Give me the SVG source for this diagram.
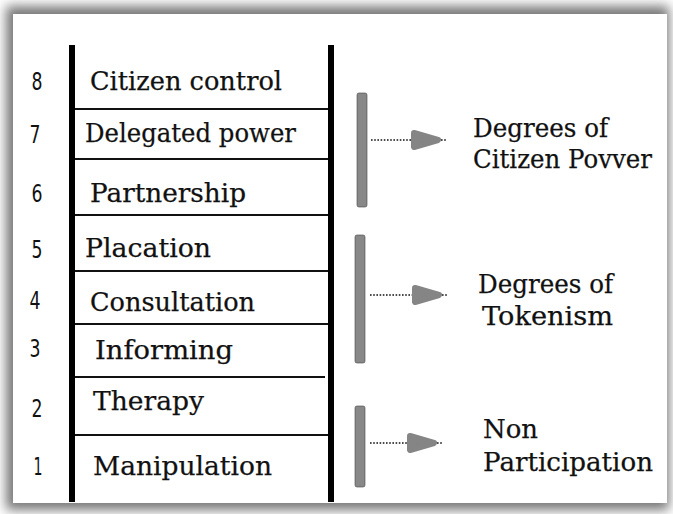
<svg xmlns="http://www.w3.org/2000/svg" width="673" height="514" viewBox="0 0 673 514">
<defs>
<filter id="sh" x="-5%" y="-5%" width="110%" height="110%"><feGaussianBlur stdDeviation="6"/></filter>
<marker id="ah" markerUnits="userSpaceOnUse" markerWidth="34" markerHeight="22" refX="2" refY="11" orient="auto" overflow="visible">
<path d="M3,4 L27,11 L3,18 Z" fill="#858585" stroke="#858585" stroke-width="6" stroke-linejoin="round"/>
</marker>
</defs>
<style>
.t{font-family:"DejaVu Serif","Liberation Serif",serif;font-size:26px;fill:#111;stroke:#111;stroke-width:0.25;}
.n{font-family:"DejaVu Sans","Liberation Sans",sans-serif;font-size:25px;fill:#111;text-anchor:middle;}
.rail{fill:#000;}
.rung{stroke:#111;stroke-width:2;}
.bar{fill:#888;stroke:#444;stroke-width:0.6;}
.con{stroke:#111;stroke-width:1.6;stroke-dasharray:1.6 1.6;fill:none;}
</style>
<rect width="673" height="514" fill="#fff"/>
<rect x="6" y="6" width="663" height="504" fill="#777" filter="url(#sh)"/>
<rect x="13" y="14" width="654" height="489" fill="#fff"/>

<g id="ladder">
<rect class="rail" x="69" y="45" width="6" height="457"/>
<rect class="rail" x="328" y="45" width="6" height="457"/>
<line class="rung" x1="75" y1="109" x2="328" y2="109"/>
<line class="rung" x1="75" y1="159" x2="328" y2="159"/>
<line class="rung" x1="75" y1="215" x2="328" y2="215"/>
<line class="rung" x1="75" y1="271" x2="328" y2="271" stroke-width="3.2"/>
<line class="rung" x1="75" y1="324" x2="328" y2="324"/>
<line class="rung" x1="75" y1="377" x2="325" y2="377"/>
<line class="rung" x1="75" y1="435" x2="328" y2="435"/>
</g>

<g id="rung8"><text class="n" x="37" y="90" textLength="11" lengthAdjust="spacingAndGlyphs">8</text><text class="t" x="90" y="90" textLength="192" lengthAdjust="spacingAndGlyphs">Citizen control</text></g>
<g id="rung7"><text class="n" x="35" y="143" textLength="11" lengthAdjust="spacingAndGlyphs">7</text><text class="t" x="85" y="142" textLength="211" lengthAdjust="spacingAndGlyphs">Delegated power</text></g>
<g id="rung6"><text class="n" x="37" y="202" textLength="11" lengthAdjust="spacingAndGlyphs">6</text><text class="t" x="90" y="202" textLength="156" lengthAdjust="spacingAndGlyphs">Partnership</text></g>
<g id="rung5"><text class="n" x="37" y="258" textLength="11" lengthAdjust="spacingAndGlyphs">5</text><text class="t" x="85" y="257" textLength="126" lengthAdjust="spacingAndGlyphs">Placation</text></g>
<g id="rung4"><text class="n" x="35" y="309" textLength="11" lengthAdjust="spacingAndGlyphs">4</text><text class="t" x="90" y="311" textLength="165" lengthAdjust="spacingAndGlyphs">Consultation</text></g>
<g id="rung3"><text class="n" x="35" y="357" textLength="11" lengthAdjust="spacingAndGlyphs">3</text><text class="t" x="95" y="359" textLength="138" lengthAdjust="spacingAndGlyphs">Informing</text></g>
<g id="rung2"><text class="n" x="37" y="417" textLength="11" lengthAdjust="spacingAndGlyphs">2</text><text class="t" x="93" y="410" textLength="111" lengthAdjust="spacingAndGlyphs">Therapy</text></g>
<g id="rung1"><text class="n" x="38" y="475" textLength="9" lengthAdjust="spacingAndGlyphs">1</text><text class="t" x="93" y="475" textLength="179" lengthAdjust="spacingAndGlyphs">Manipulation</text></g>

<g id="bracket-power"><rect class="bar" x="357" y="93" width="10" height="114" rx="2"/></g>
<g id="bracket-tokenism"><rect class="bar" x="355" y="235" width="10" height="128" rx="2"/></g>
<g id="bracket-non"><rect class="bar" x="355" y="406" width="10" height="81" rx="2"/></g>

<g id="label-power"><text class="t" x="473" y="137" textLength="135" lengthAdjust="spacingAndGlyphs">Degrees of</text><text class="t" x="473" y="168" textLength="179" lengthAdjust="spacingAndGlyphs">Citizen Povver</text></g>
<g id="label-tokenism"><text class="t" x="478" y="293" textLength="135" lengthAdjust="spacingAndGlyphs">Degrees of</text><text class="t" x="482" y="325" textLength="131" lengthAdjust="spacingAndGlyphs">Tokenism</text></g>
<g id="label-non"><text class="t" x="483" y="438" textLength="55" lengthAdjust="spacingAndGlyphs">Non</text><text class="t" x="483" y="471" textLength="170" lengthAdjust="spacingAndGlyphs">Participation</text></g>

<g id="connectors">
<line class="con" x1="371" y1="140" x2="413" y2="140" marker-end="url(#ah)"/>
<line class="con" x1="370" y1="295" x2="414" y2="295" marker-end="url(#ah)"/>
<line class="con" x1="370" y1="443" x2="409" y2="443" marker-end="url(#ah)"/>
<line class="con" x1="441" y1="140" x2="446" y2="140"/>
<line class="con" x1="442" y1="295" x2="447" y2="295"/>
<line class="con" x1="437" y1="443" x2="442" y2="443"/>
</g>
</svg>
